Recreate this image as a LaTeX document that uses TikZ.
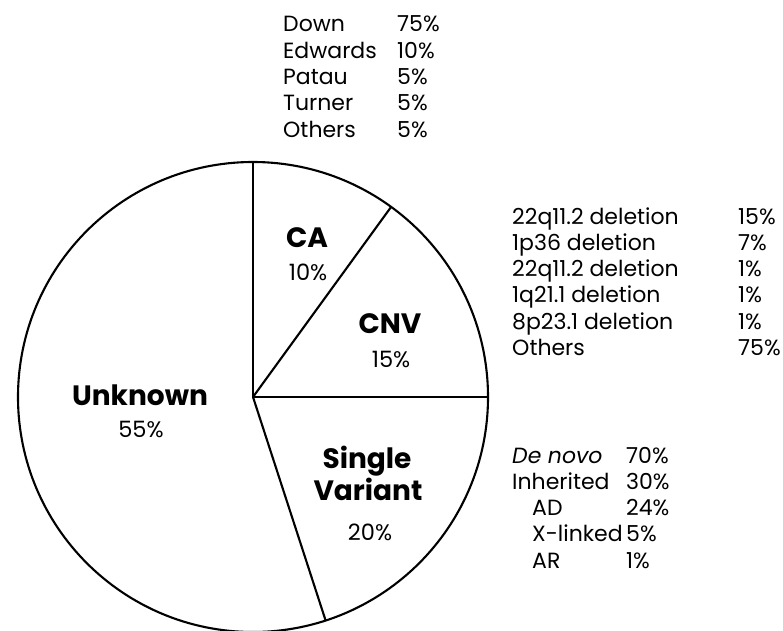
\documentclass[tikz,border=0pt]{standalone}
\usepackage{fontspec}
\setmainfont{Poppins}
\usetikzlibrary{positioning}

\tikzset{
  slice/.style={line width=2.1pt},
  catname/.style={font=\fontsize{28}{30}\selectfont\bfseries, inner sep=0pt, anchor=base},
  catpct/.style={font=\fontsize{22.5}{24}\selectfont, inner sep=0pt, anchor=base},
  breakdown/.style={font=\fontsize{22}{26.3}\selectfont, inner sep=0pt, anchor=base west},
}
\newcommand{\pieR}{235pt}

\begin{document}
\begin{tikzpicture}[x=1pt,y=1pt]
  \useasboundingbox (0,0) rectangle (783,630);
  % pie with its four slices
  \coordinate (ctr) at (253,233);
  \draw[slice] (ctr) circle (\pieR);
  \foreach \a/\n in {90/top,54/cacnv,0/cnvsv,-72/svunk}
    \draw[slice] (ctr) -- ++(\a:\pieR) coordinate (rim-\n);

  % slice labels
  \node[catname] (ca)      at (307,383) {CA};
  \node[catpct]  (ca-p)    at (308,350) {10\%};
  \node[catname] (cnv)     at (390,297) {CNV};
  \node[catpct]  (cnv-p)   at (391,263) {15\%};
  \node[catname] (unk)     at (140,225) {Unknown};
  \node[catpct]  (unk-p)   at (141,193) {55\%};
  \node[catname] (sv1)     at (367,162) {Single};
  \node[catname] (sv2)     at (368,130) {Variant};
  \node[catpct]  (sv-p)    at (370,90)  {20\%};

  % breakdown lists
  \node[breakdown] (ca-list) at (283,598) {\begin{tabular}[t]{@{}p{114pt}@{}l@{}}
    Down & 75\%\\
    Edwards & 10\%\\
    Patau & 5\%\\
    Turner & 5\%\\
    Others & 5\%
  \end{tabular}};
  \node[breakdown] (cnv-list) at (512,406) {\begin{tabular}[t]{@{}p{226pt}@{}l@{}}
    22q11.2 deletion & 15\%\\
    1p36 deletion & 7\%\\
    22q11.2 deletion & 1\%\\
    1q21.1 deletion & 1\%\\
    8p23.1 deletion & 1\%\\
    Others & 75\%
  \end{tabular}};
  \node[breakdown] (sv-list) at (512,167) {\begin{tabular}[t]{@{}p{114pt}@{}l@{}}
    \mbox{\textit{De novo}} & 70\%\\
    \mbox{Inherited} & 30\%\\
    \hspace*{20pt}\mbox{AD} & 24\%\\
    \hspace*{20pt}\mbox{X-linked} & 5\%\\
    \hspace*{20pt}\mbox{AR} & 1\%
  \end{tabular}};
\end{tikzpicture}
\end{document}
